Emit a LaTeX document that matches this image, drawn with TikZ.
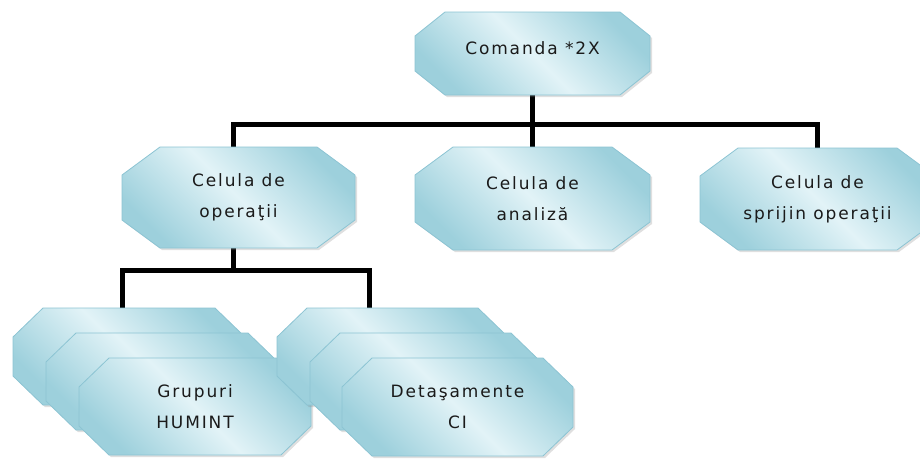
\documentclass[tikz,border=0pt]{standalone}
\usepackage{fontspec}
\setmainfont{DejaVu Sans}[LetterSpace=11]
\usetikzlibrary{shadows,backgrounds}
\definecolor{boxdark}{HTML}{9DD0DC}
\definecolor{boxlight}{HTML}{E2F3F7}
\definecolor{boxline}{HTML}{8CC4D3}
\definecolor{txtcol}{HTML}{1A1A1A}
\tikzset{
  octshape/.style={draw=boxline, line width=0.8pt,
    top color=boxdark, bottom color=boxdark, middle color=boxlight, shading angle=-45,
    drop shadow={shadow xshift=2pt, shadow yshift=-2pt, opacity=0.25}},
  boxtext/.style={draw=none, inner sep=0pt, align=center, text=txtcol,
    font=\fontsize{17}{31}\selectfont},
  conn/.style={draw=black, line width=5pt, line join=miter}
}
\newcommand\obox[8]{%
  \path[octshape] (#2+#6,#3) -- (#4-#6,#3) -- (#4,#3+#7) -- (#4,#5-#7) -- (#4-#6,#5) -- (#2+#6,#5) -- (#2,#5-#7) -- (#2,#3+#7) -- cycle;
  \node[boxtext, minimum width={#4-#2}, minimum height={#5-#3}] (#1) at ({(#2+#4)/2},{(#3+#5)/2}) {#8};}
\begin{document}
\begin{tikzpicture}[x=1pt, y=-1pt]
\useasboundingbox (0,0) rectangle (920,461);
\coordinate (bus) at (533,124);
\coordinate (lbus) at (233,270);
% boxes
\obox{top}{415}{12}{650}{95}{30}{24}{\raisebox{10pt}{Comanda *2X}}
\obox{op}{122}{147}{355}{248}{38}{28}{Celula de\\operaţii}
\obox{an}{415}{147}{650}{250}{38}{28}{Celula de\\analiză}
\obox{sp}{700}{148}{935}{250}{38}{28}{Celula de\\sprijin operaţii}
\obox{g1}{13}{308}{245}{405}{30}{29}{}
\obox{g2}{46}{333}{278}{430}{30}{29}{}
\obox{g3}{79}{358}{311}{455}{30}{29}{Grupuri\\HUMINT}
\obox{d1}{277}{308}{508}{405}{30}{29}{}
\obox{d2}{310}{333}{541}{430}{30}{29}{}
\obox{d3}{342}{358}{573}{456}{30}{29}{Detaşamente\\CI}
% connectors (behind boxes)
\begin{scope}[on background layer]
\draw[conn] (top.south) -- (top.south |- bus);
\draw[conn] ([xshift=-5.5pt]op.north) |- (sp.north |- bus) -- (sp.north);
\draw[conn] (an.north |- bus) -- (an.north);
\draw[conn] ([xshift=-5.5pt]op.south) -- ([xshift=-5.5pt]op.south |- lbus);
\draw[conn] ([xshift=-7pt]g1.north) |- ([xshift=-23pt]d1.north |- lbus) -- ([xshift=-23pt]d1.north);
\end{scope}
\end{tikzpicture}
\end{document}
